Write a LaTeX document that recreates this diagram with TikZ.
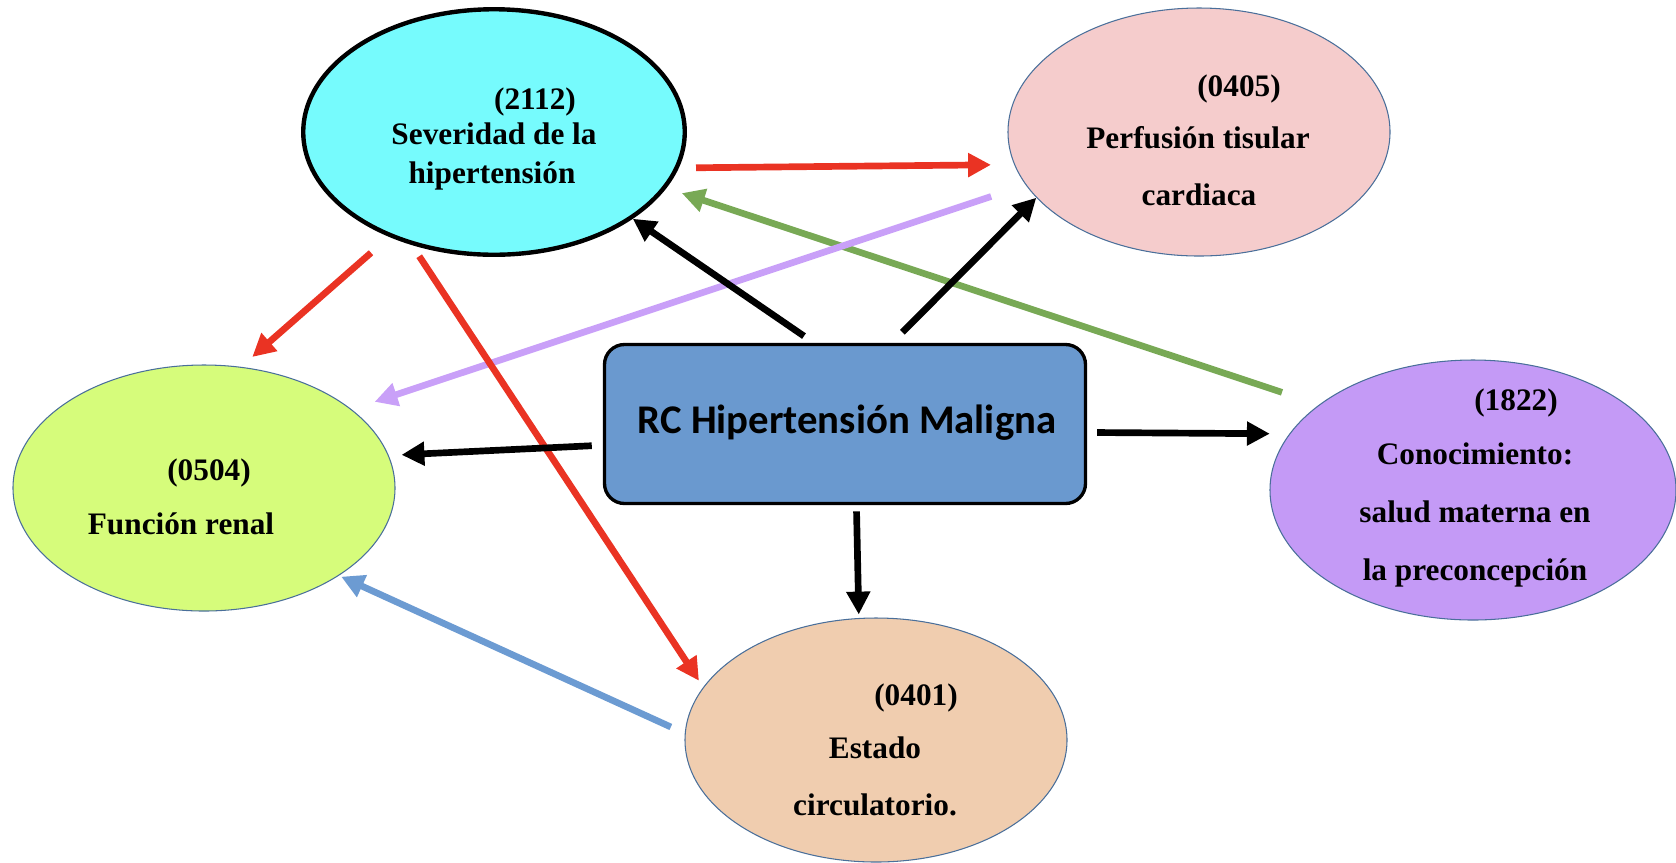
\documentclass[tikz,border=0pt]{standalone}
\usepackage{fontspec}
\setmainfont{Liberation Serif}
\newfontfamily\calibfont{Carlito}
\usepackage{tikz}
\usetikzlibrary{arrows.meta}
\usetikzlibrary{shapes.geometric}

\definecolor{sevcyan}{HTML}{76FBFD}
\definecolor{perfpink}{HTML}{F5CCCC}
\definecolor{conlila}{HTML}{C49AF6}
\definecolor{funlime}{HTML}{D6FC7B}
\definecolor{estpeach}{HTML}{F0CDAF}
\definecolor{rcblue}{HTML}{6A99CF}
\definecolor{edgeblue}{HTML}{4A6F9A}
\definecolor{linkred}{HTML}{EA3323}
\definecolor{linkgreen}{HTML}{78A955}
\definecolor{linklila}{HTML}{C9A0F8}
\definecolor{linkblue}{HTML}{6C9BD2}

\begin{document}
\begin{tikzpicture}[x=0.2mm,y=-0.2mm,
    goal/.style={ellipse,draw=edgeblue,line width=0.6pt,inner sep=0pt},
    lbl/.style={anchor=base,font=\bfseries\fontsize{17.8}{20}\selectfont},
    link/.style={line width=3.8pt,-{Triangle[length=13pt,width=13pt]}}]
    \useasboundingbox (0,0) rectangle (1676,862);

    % resultados
    \node[goal,fill=sevcyan,draw=black,line width=2.5pt,minimum width=7.63cm,minimum height=4.91cm] (sev) at (494,132) {};
    \node[goal,fill=perfpink,minimum width=7.64cm,minimum height=4.96cm] (perf) at (1199,132) {};
    \node[goal,fill=funlime,minimum width=7.64cm,minimum height=4.92cm] (fun) at (204,488) {};
    \node[goal,fill=conlila,minimum width=8.12cm,minimum height=5.2cm] (con) at (1473,490) {};
    \node[goal,fill=estpeach,minimum width=7.64cm,minimum height=4.88cm] (est) at (876,740) {};

    % problema central
    \node[draw=black,line width=1.9pt,fill=rcblue,rounded corners=0.4cm,minimum width=9.62cm,minimum height=3.18cm] (rc) at (845,424) {};
    \node[anchor=base,font=\calibfont\bfseries\fontsize{23.2}{28}\selectfont] (rctxt) at (847,433) {RC Hipertensión Maligna};

    \foreach \x/\y/\txt [count=\i] in {
        535/109/{(2112)}, 494/144/{Severidad de la}, 492/183/{hipertensión},
        1239/96/{(0405)}, 1198/148/{Perfusión tisular}, 1199/205/{cardiaca},
        1516/410/{(1822)}, 1475/464/{Conocimiento:}, 1475/522/{salud materna en}, 1475/580/{la preconcepción},
        209/480/{(0504)}, 181/534/{Función renal},
        916/705/{(0401)}, 875/758/{Estado}, 875/815/{circulatorio.}
    }{
        \node[lbl] (l\i) at (\x,\y) {\txt};
    };

    % relaciones
    \draw[link,linkred,shorten <=9.8pt,shorten >=13.2pt] (sev.-11) -- (perf.-170.1);
    \draw[link,linkgreen,shorten <=22.2pt,shorten >=9.2pt] (con.151.8) -- (sev.-18);
    \draw[link,linklila,shorten <=20.7pt,shorten >=13.7pt] (perf.-163.7) -- (fun.28.2);
    \draw[link,linkred,shorten <=13.7pt,shorten >=8.5pt] (sev.-135.7) -- (fun.73.1);
    \draw[link,linkred,shorten <=7.6pt,shorten >=4.4pt] (sev.-126) -- (est.163.7);
    \draw[link,linkblue,shorten <=8.7pt,shorten >=1.4pt] (est.178) -- (fun.-33.2);

    \draw[link,black,shorten <=6.8pt] (rc.111.9) -- (sev.-32.9);
    \draw[link,black,shorten <=8.5pt] (rc.60.6) -- (perf.-158);
    \draw[link,black,shorten <=6.3pt,shorten >=7.3pt] (rc.-175.5) -- (fun.10.7);
    \draw[link,black,shorten <=5.7pt,shorten >=11.1pt] (rc.-2.1) -- (con.163.2);
    \draw[link,black,shorten <=3.5pt,shorten >=2pt] (rc.-82.2) -- (est.98.6);

\end{tikzpicture}
\end{document}
